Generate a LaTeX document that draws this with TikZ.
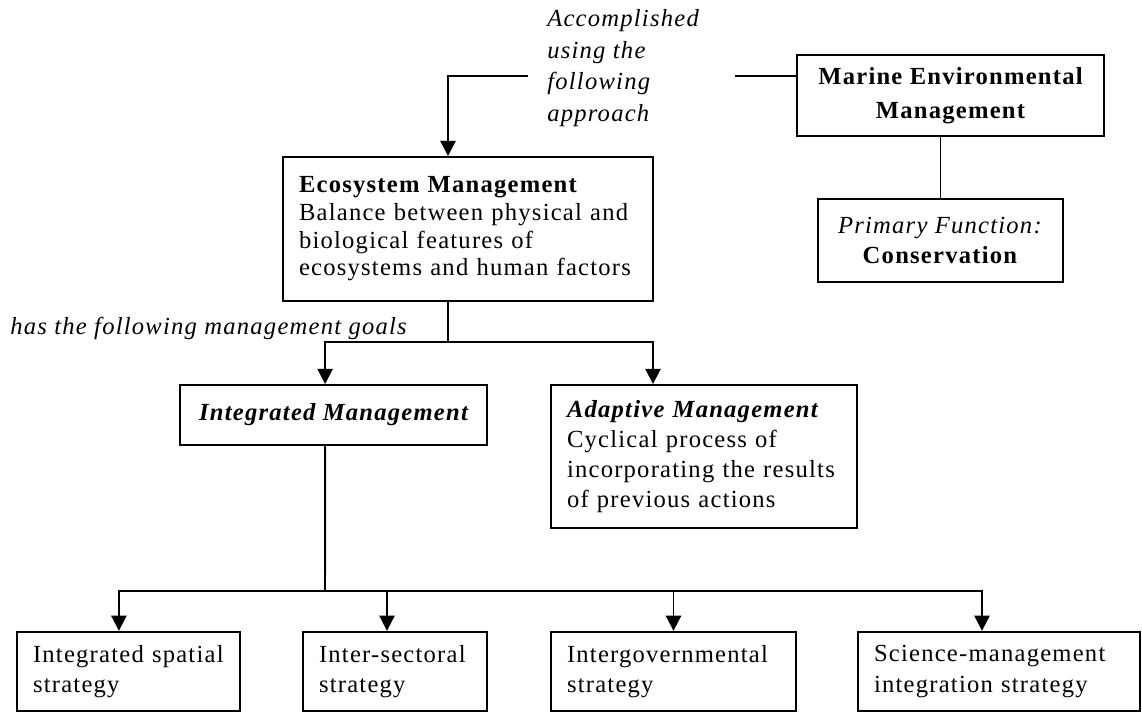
\documentclass[tikz,border=0pt]{standalone}
\usepackage{fontspec}
\setmainfont{Liberation Serif}[LetterSpace=5]
\usetikzlibrary{arrows.meta,positioning,calc}

\begin{document}
\begin{tikzpicture}[
  headbox/.style={draw, line width=1.4pt, align=center, inner sep=0pt, font=\fontsize{17.5}{21.5}\selectfont},
  textbox/.style={draw, line width=1.4pt, align=left, inner xsep=4mm, inner ysep=0pt, font=\fontsize{17.5}{21.5}\selectfont},
  strategy/.style={textbox, minimum height=1.99cm},
  note/.style={anchor=west, align=left, inner sep=0pt, font=\fontsize{17.5}{22.5}\selectfont\itshape},
  arrow/.style={-{Triangle[length=3.8mm,width=3.8mm]}, line width=1.4pt},
  link/.style={line width=1.4pt}
]
\useasboundingbox (0,0) rectangle (28.55,-17.825);

\node[headbox, font=\fontsize{17.5}{24}\selectfont\bfseries, minimum width=7.675cm, minimum height=2.025cm] (marine) at (23.7625,-2.3875) {Marine Environmental\\Management};
\node[headbox, minimum width=6.125cm, minimum height=2.075cm] (primary) at (23.5125,-6.0125) {\textit{Primary Function:}\\\textbf{Conservation}};
\node[textbox, font=\fontsize{17.5}{19.7}\selectfont, text width=8.45cm, minimum height=3.6cm] (eco) at (11.7,-5.725) {\textbf{Ecosystem Management}\\Balance between physical and\\biological features of\\ecosystems and human factors};
\node[headbox, font=\fontsize{17.5}{21.5}\selectfont\bfseries\itshape, minimum width=7.675cm, minimum height=1.5cm] (integrated) at (8.3375,-10.375) {Integrated Management};
\node[textbox, text width=6.85cm, minimum height=3.575cm] (adaptive) at (17.6,-11.4125) {\textbf{\textit{Adaptive Management}}\\Cyclical process of\\incorporating the results\\of previous actions};

\node[strategy, text width=4.775cm] (spatial) at (3.2125,-16.79) {Integrated spatial\\strategy};
\node[strategy, text width=3.8cm] (sectoral) at (9.875,-16.79) {Inter-sectoral\\strategy};
\node[strategy, text width=5.325cm] (intergov) at (16.8375,-16.79) {Intergovernmental\\strategy};
\node[strategy, text width=6.26cm] (science) at (24.98,-16.79) {Science-management\\integration strategy};

\node[note] (approach) at (13.675,-1.7) {Accomplished\\using the\\following\\approach};
\node[note] (goals) at (0.25,-8.2) {has the following management goals};

\coordinate (jr) at (18.375,-1.9);
\coordinate (jl) at (13.2,-1.9);
\coordinate (goalsplit) at (11.2,-8.55);
\coordinate (stratsplit) at (8.125,-14.775);

\draw[link] (marine.west |- jr) -- (jr);
\draw[arrow] (jl) -| ([xshift=-5mm]eco.north);
\draw[link] (primary.north) -- (primary.north |- marine.south);

\draw[link] ([xshift=-5mm]eco.south) -- (goalsplit);
\draw[arrow] (goalsplit) -| ([xshift=-2.1mm]integrated.north);
\draw[arrow] (goalsplit) -| ([xshift=-12.75mm]adaptive.north);

\draw[link] ([xshift=-2.1mm]integrated.south) -- (stratsplit);
\draw[arrow] (stratsplit) -| ([xshift=-2.4mm]spatial.north);
\draw[arrow] (stratsplit) -| ([xshift=-2mm]sectoral.north);
\draw[arrow] (stratsplit) -| (intergov.north);
\draw[arrow] (stratsplit) -| ([xshift=-4.3mm]science.north);
\end{tikzpicture}
\end{document}
